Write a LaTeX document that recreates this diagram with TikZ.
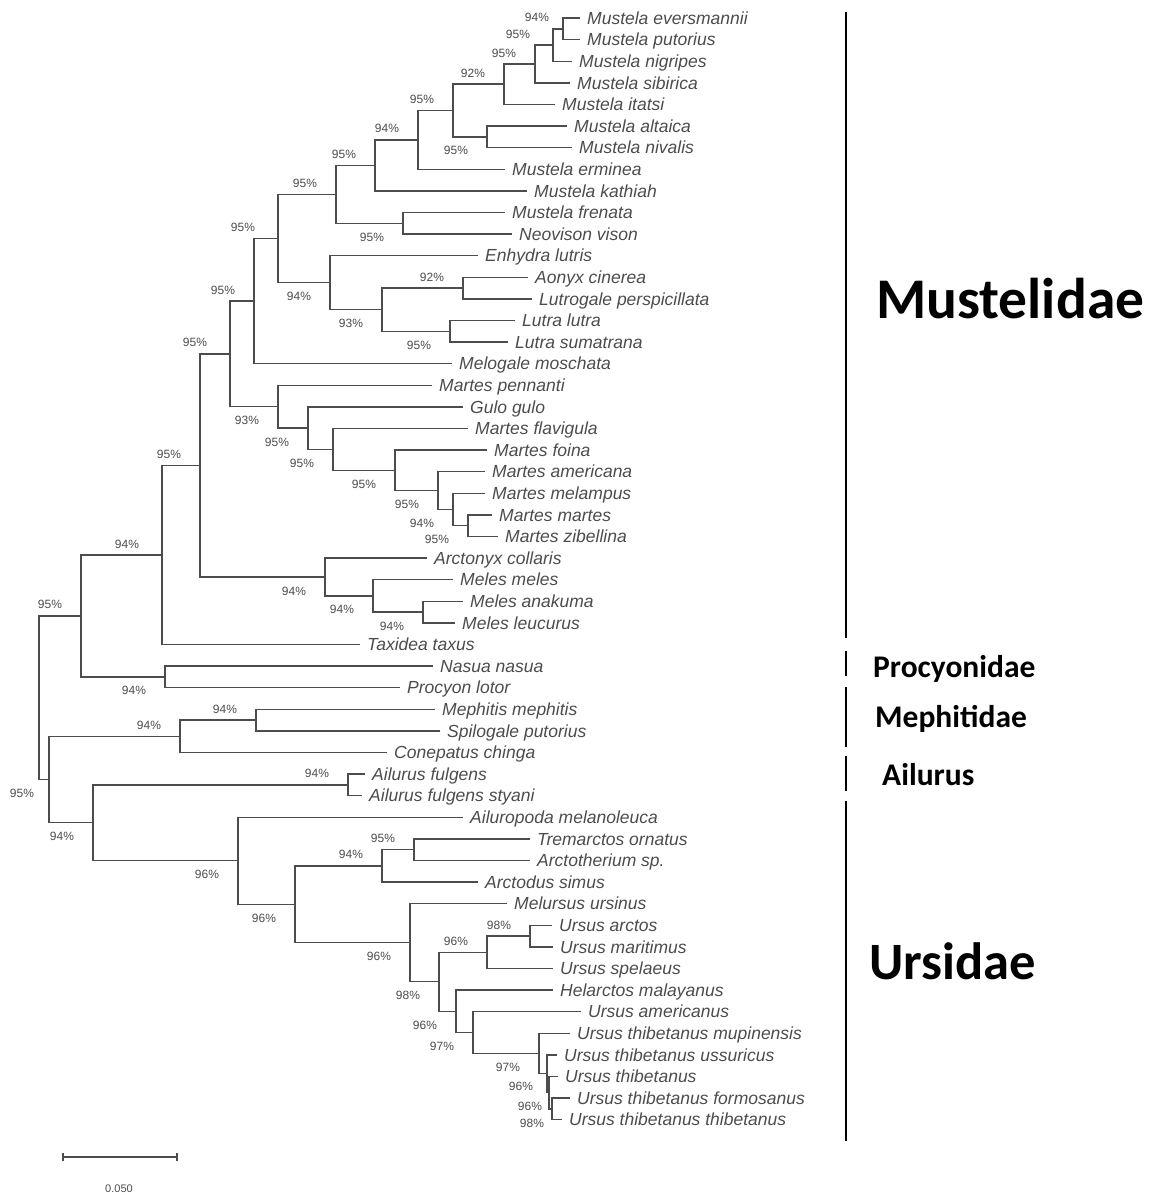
\documentclass[tikz,border=0pt]{standalone}
\usepackage{fontspec}
\setmainfont{Liberation Sans}
\newfontfamily\famfont{Carlito}
\usetikzlibrary{calc}

\definecolor{treeink}{gray}{0.3}

% clade: name, x of the split, upper child, lower child
\newcommand\clade[4]{%
  \path let \p1=(#3), \p2=(#4) in coordinate (#1) at (#2pt,{0.5*\y1+0.5*\y2});
  \draw[branch] (#1) |- (#3);
  \draw[branch] (#1) |- (#4);
}

\begin{document}
\begin{tikzpicture}[x=1pt, y=-1pt,
    branch/.style={draw=treeink, line width=1.4pt},
    tip/.style={anchor=west, inner xsep=7pt, inner ysep=0pt, text=treeink,
      font=\fontsize{17.5}{20}\selectfont\itshape, text height=12.5pt, text depth=0pt},
    bs/.style={text=treeink, font=\fontsize{12}{14}\selectfont, inner sep=0pt},
    bsup/.style={bs, xshift=-31pt, yshift=11pt},
    bsdn/.style={bs, xshift=-31pt, yshift=-14pt},
    family/.style={anchor=base west, inner sep=0pt, font=\famfont\bfseries},
    bar/.style={line width=2.5pt}]
    \useasboundingbox (0,0) rectangle (1153,1195);

    % tips
    \foreach \x/\nm [count=\i] in {
      580/Mustela eversmannii, 580/Mustela putorius, 572/Mustela nigripes,
      570/Mustela sibirica, 555/Mustela itatsi, 567/Mustela altaica,
      572/Mustela nivalis, 505/Mustela erminea, 527/Mustela kathiah,
      505/Mustela frenata, 512/Neovison vison, 478/Enhydra lutris,
      528/Aonyx cinerea, 532/Lutrogale perspicillata, 515/Lutra lutra,
      508/Lutra sumatrana, 452/Melogale moschata, 432/Martes pennanti,
      463/Gulo gulo, 468/Martes flavigula, 487/Martes foina,
      485/Martes americana, 485/Martes melampus, 492/Martes martes,
      498/Martes zibellina, 427/Arctonyx collaris, 453/Meles meles,
      463/Meles anakuma, 455/Meles leucurus, 360/Taxidea taxus,
      433/Nasua nasua, 400/Procyon lotor, 435/Mephitis mephitis,
      440/Spilogale putorius, 387/Conepatus chinga, 365/Ailurus fulgens,
      362/Ailurus fulgens styani, 463/Ailuropoda melanoleuca, 530/Tremarctos ornatus,
      530/Arctotherium sp., 478/Arctodus simus, 507/Melursus ursinus,
      552/Ursus arctos, 553/Ursus maritimus, 553/Ursus spelaeus,
      553/Helarctos malayanus, 581/Ursus americanus, 570/Ursus thibetanus mupinensis,
      557/Ursus thibetanus ussuricus, 558/Ursus thibetanus, 570/Ursus thibetanus formosanus,
      562/Ursus thibetanus thibetanus}
      \node[tip] (t\i) at (\x,{18+(\i-1)*21.6}) {\nm};

    % Mustelidae
    \clade{m1}{563}{t1}{t2}
    \clade{m2}{553}{m1}{t3}
    \clade{m3}{535}{m2}{t4}
    \clade{m4}{504}{m3}{t5}
    \clade{m5}{487}{t6}{t7}
    \clade{m6}{453}{m4}{m5}
    \clade{m7}{418}{m6}{t8}
    \clade{m8}{375}{m7}{t9}
    \clade{m9}{403}{t10}{t11}
    \clade{m10}{336}{m8}{m9}
    \clade{o1}{463}{t13}{t14}
    \clade{o2}{450}{t15}{t16}
    \clade{o3}{382}{o1}{o2}
    \clade{o4}{330}{t12}{o3}
    \clade{m11}{278}{m10}{o4}
    \clade{m12}{254}{m11}{t17}
    \clade{r1}{468}{t24}{t25}
    \clade{r2}{453}{t23}{r1}
    \clade{r3}{438}{t22}{r2}
    \clade{r4}{395}{t21}{r3}
    \clade{r5}{333}{t20}{r4}
    \clade{r6}{308}{t19}{r5}
    \clade{r7}{278}{t18}{r6}
    \clade{m13}{230}{m12}{r7}
    \clade{b1}{423}{t28}{t29}
    \clade{b2}{373}{t27}{b1}
    \clade{b3}{325}{t26}{b2}
    \clade{m14}{200}{m13}{b3}
    \clade{m15}{162}{m14}{t30}
    % Procyonidae, Mephitidae, Ailurus
    \clade{p1}{165}{t31}{t32}
    \clade{c1}{81}{m15}{p1}
    \clade{s1}{256}{t33}{t34}
    \clade{s2}{180}{s1}{t35}
    \clade{a1}{348}{t36}{t37}
    % Ursidae
    \clade{u1}{414}{t39}{t40}
    \clade{u2}{382}{u1}{t41}
    \clade{u3}{530}{t43}{t44}
    \clade{u4}{487}{u3}{t45}
    \clade{uc}{552}{t51}{t52}
    \clade{ub}{549}{t50}{uc}
    \clade{ua}{547}{t49}{ub}
    \clade{u5}{539}{t48}{ua}
    \clade{u6}{473}{t47}{u5}
    \clade{u7}{456}{t46}{u6}
    \clade{u8}{439}{u4}{u7}
    \clade{u9}{410}{t42}{u8}
    \clade{u10}{295}{u2}{u9}
    \clade{u11}{238}{t38}{u10}
    \clade{u12}{93}{a1}{u11}
    \clade{c2}{49}{s2}{u12}
    \clade{root}{39}{c1}{c2}

    % bootstrap values
    \foreach \n/\v in {m3/95, m4/92, m6/95, m7/94, m8/95, m10/95,
        o1/92, m12/95, m14/95, c1/95, s1/94, s2/94,
        a1/94, u1/95, u2/94, u3/98, u4/96}
      \node[bsup] at (\n) {\v\%};
    \foreach \n/\v in {m2/95, m11/95, m13/95, m15/94}
      \node[bsup, xshift=-4pt] at (\n) {\v\%};
    \node[bsup, xshift=5pt] at (m1) {94\%};
    \foreach \n/\v in {m5/95, m9/95, o2/95, o3/93, o4/94, r1/95, r2/94, r3/95,
        r4/95, r5/95, r6/95, r7/93, b1/94, b2/94, b3/94, p1/94, u5/97, u6/97,
        u7/96, u8/98, u9/96, u10/96, u11/96, u12/94}
      \node[bsdn] at (\n) {\v\%};
    \node[bsdn, xshift=4pt] at (c2) {95\%};
    \node[bs, xshift=-26pt, yshift=-13pt] at (ua) {96\%};
    \node[bs, xshift=-19pt, yshift=-14pt] at (ub) {96\%};
    \node[bs, xshift=-20pt, yshift=-15pt] at (uc) {98\%};

    % families
    \draw[bar] (846,12) -- (846,638);
    \draw[bar] (846,651) -- (846,676);
    \draw[bar] (846,687) -- (846,747);
    \draw[bar] (846,756) -- (846,791);
    \draw[bar] (846,801) -- (846,1141);
    \node[family, font=\famfont\bfseries\fontsize{57.5}{60}\selectfont] (fmus) at (876,318) {Mustelidae};
    \node[family, font=\famfont\bfseries\fontsize{31.5}{34}\selectfont] (fpro) at (873,677) {Procyonidae};
    \node[family, font=\famfont\bfseries\fontsize{31.5}{34}\selectfont] (fmep) at (875,727) {Mephitidae};
    \node[family, font=\famfont\bfseries\fontsize{31.5}{34}\selectfont] (fail) at (882,785) {Ailurus};
    \node[family, font=\famfont\bfseries\fontsize{52.5}{56}\selectfont] (furs) at (869,979) {Ursidae};

    % scale bar
    \coordinate (sb0) at (63,1157);
    \coordinate (sb1) at (177,1157);
    \draw[branch, line width=1.2pt] (sb0) -- (sb1);
    \draw[branch, line width=1.2pt] ([yshift=4pt]sb0) -- ([yshift=-4pt]sb0);
    \draw[branch, line width=1.2pt] ([yshift=4pt]sb1) -- ([yshift=-4pt]sb1);
    \node[bs, font=\fontsize{11}{13}\selectfont] (sblab) at (119,1189) {0.050};
\end{tikzpicture}
\end{document}
